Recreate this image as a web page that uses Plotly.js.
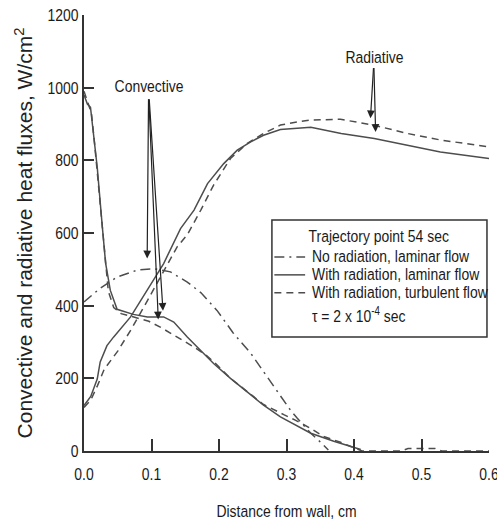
<!DOCTYPE html>
<html>
<head>
<meta charset="utf-8">
<script src="https://cdn.plot.ly/plotly-3.0.1.min.js"></script>
<style>
  html, body { margin: 0; padding: 0; background: #fff; }
  #chart { width: 497px; height: 521px; }
</style>
</head>
<body>
<div id="chart"></div>
<script>
// Distance from wall, cm, and heat fluxes in W/cm^2 for each case.

// No radiation, laminar flow (convective only)
const noRadX    = [0.0, 0.024, 0.049, 0.079, 0.103, 0.128, 0.153, 0.173, 0.197, 0.221, 0.247, 0.271, 0.291, 0.306, 0.316, 0.336, 0.350, 0.362];
const noRadConv = [410, 448, 479, 498, 502, 493, 465, 436, 387, 325, 269, 204, 149, 112, 90, 49, 25, 3];

// With radiation, laminar flow
const lamConvX  = [0.0, 0.005, 0.0096, 0.0145, 0.0196, 0.027, 0.032, 0.039, 0.049, 0.073, 0.094, 0.118, 0.133, 0.153, 0.173, 0.192, 0.217, 0.242, 0.266, 0.291, 0.318, 0.336, 0.370, 0.399, 0.410];
const lamConv   = [980, 955, 946, 864, 781, 620, 517, 442, 390, 376, 369, 369, 355, 314, 277, 241, 200, 163, 126, 94, 66, 49, 27, 11, 4];
const lamRadX   = [0.0, 0.01, 0.0196, 0.024, 0.034, 0.044, 0.069, 0.094, 0.118, 0.143, 0.163, 0.183, 0.207, 0.227, 0.247, 0.266, 0.291, 0.336, 0.381, 0.430, 0.479, 0.528, 0.600];
const lamRad    = [125, 150, 198, 245, 290, 314, 369, 443, 516, 612, 663, 736, 791, 828, 851, 869, 885, 891, 874, 860, 842, 823, 805];

// With radiation, turbulent flow
const turbConvX = [0.0, 0.006, 0.011, 0.016, 0.022, 0.029, 0.036, 0.044, 0.055, 0.075, 0.096, 0.113, 0.138, 0.163, 0.180, 0.195, 0.217, 0.242, 0.266, 0.296, 0.313, 0.336, 0.355, 0.380, 0.402, 0.412, 0.470, 0.480, 0.520, 0.530, 0.600];
const turbConv  = [990, 960, 930, 840, 720, 560, 440, 395, 378, 368, 357, 341, 314, 286, 265, 241, 200, 163, 128, 100, 85, 62, 40, 24, 8, 0, 0, 7, 7, 0, 0];
const turbRadX  = [0.0, 0.01, 0.02, 0.03, 0.05, 0.07, 0.094, 0.118, 0.138, 0.153, 0.173, 0.192, 0.217, 0.242, 0.266, 0.291, 0.316, 0.336, 0.380, 0.429, 0.479, 0.528, 0.600];
const turbRad   = [120, 140, 180, 225, 275, 335, 414, 497, 562, 595, 663, 732, 805, 847, 874, 897, 906, 911, 913, 897, 874, 856, 837];

const caseNames = ['No radiation, laminar flow', 'With radiation, laminar flow', 'With radiation, turbulent flow'];
const legendTitle = 'Trajectory point 54 sec';
const legendNote = '\u03c4 = 2 x 10<sup>-4</sup> sec';

const xTicks = [0.0, 0.1, 0.2, 0.3, 0.4, 0.5, 0.6];
const yTicks = [0, 200, 400, 600, 800, 1000, 1200];

const lineColor = '#4d4d4d';
const sans = '"Liberation Sans", Arial, sans-serif';
const dashNoRad = '10px,5px,2px,5px';
const dashTurb = '7px,5px';
const caseDash = [dashNoRad, 'solid', dashTurb];

function curve(x, y, name, dash) {
  return {
    x: x, y: y, name: name, type: 'scatter', mode: 'lines', showlegend: false,
    line: { color: lineColor, width: 1.5, dash: dash }, hoverinfo: 'skip'
  };
}

const traces = [
  curve(noRadX, noRadConv, caseNames[0], dashNoRad),
  curve(lamConvX, lamConv, caseNames[1], 'solid'),
  curve(lamRadX, lamRad, caseNames[1], 'solid'),
  curve(turbConvX, turbConv, caseNames[2], dashTurb),
  curve(turbRadX, turbRad, caseNames[2], dashTurb)
];

function arrow(tipX, tipY, tailX, tailY) {
  return {
    x: tipX, y: tipY, ax: tailX, ay: tailY,
    xref: 'x', yref: 'y', axref: 'x', ayref: 'y',
    text: '', showarrow: true,
    arrowhead: 2, arrowsize: 1.3, arrowwidth: 1.2, arrowcolor: '#222'
  };
}

const labelFont = { family: sans, size: 17, color: '#1a1a1a' };

// Key box, placed in paper units over the lower right of the plot
const key = { x0: 0.464, x1: 0.995, y0: 0.2615, y1: 0.530,
              sampleX0: 0.470, sampleX1: 0.546, textX: 0.558,
              titleX: 0.728, titleY: 0.492, rowY: [0.445, 0.404, 0.363], noteY: 0.312 };

const annotations = [
  { x: 0.096, y: 1002, xref: 'x', yref: 'y', text: 'Convective', showarrow: false, font: labelFont },
  { x: 0.430, y: 1084, xref: 'x', yref: 'y', text: 'Radiative', showarrow: false, font: labelFont },
  arrow(0.0936, 530, 0.0956, 972),
  arrow(0.110, 362, 0.0960, 972),
  arrow(0.117, 386, 0.0965, 972),
  arrow(0.4244, 916, 0.429, 1058),
  arrow(0.432, 878, 0.4295, 1058),
  { x: key.titleX, y: key.titleY, xref: 'paper', yref: 'paper', text: legendTitle,
    showarrow: false, font: labelFont, xanchor: 'center', yanchor: 'middle' }
];
caseNames.forEach(function (name, i) {
  annotations.push({ x: key.textX, y: key.rowY[i], xref: 'paper', yref: 'paper', text: name,
    showarrow: false, font: labelFont, xanchor: 'left', yanchor: 'middle', align: 'left' });
});
annotations.push({ x: key.textX, y: key.noteY, xref: 'paper', yref: 'paper', text: legendNote,
  showarrow: false, font: labelFont, xanchor: 'left', yanchor: 'middle', align: 'left' });

const shapes = [
  { type: 'rect', xref: 'paper', yref: 'paper', x0: key.x0, x1: key.x1, y0: key.y0, y1: key.y1,
    line: { color: '#333', width: 1.5 }, fillcolor: 'rgba(255,255,255,0)' }
];
caseDash.forEach(function (d, i) {
  shapes.push({ type: 'line', xref: 'paper', yref: 'paper',
    x0: key.sampleX0, x1: key.sampleX1, y0: key.rowY[i], y1: key.rowY[i],
    line: { color: lineColor, width: 1.5, dash: d } });
});

const layout = {
  width: 497, height: 521,
  margin: { l: 84, r: 8, t: 15, b: 70 },
  paper_bgcolor: '#fff', plot_bgcolor: '#fff',
  font: { family: sans, size: 17, color: '#222' },
  showlegend: false,
  xaxis: {
    range: [0, 0.6], tickvals: xTicks, tickformat: '.1f',
    ticks: 'inside', ticklen: 12, tickwidth: 2, tickcolor: '#333',
    showline: true, linewidth: 2, linecolor: '#333',
    showgrid: false, zeroline: false, ticklabelstandoff: 7,
    ticklabeloverflow: 'allow',
    tickfont: labelFont,
    title: { text: 'Distance from wall, cm', standoff: 22, font: labelFont }
  },
  yaxis: {
    range: [0, 1200], tickvals: yTicks,
    ticks: 'inside', ticklen: 10, tickwidth: 2, tickcolor: '#333',
    showline: true, linewidth: 2, linecolor: '#333',
    showgrid: false, zeroline: false,
    tickfont: labelFont,
    title: { text: 'Convective and radiative heat fluxes, W/cm<sup>2</sup>', standoff: 2,
             font: { family: sans, size: 21, color: '#222' } }
  },
  annotations: annotations,
  shapes: shapes
};

// Condensed lettering: narrow each label horizontally about its own anchor.
function condense(gd, factor) {
  const sel = '.xtick text, .ytick text, .g-xtitle text, text.annotation-text';
  gd.querySelectorAll(sel).forEach(function (el) {
    const b = el.getBBox();
    if (!b.width) return;
    const anchor = el.getAttribute('text-anchor') || 'start';
    const px = anchor === 'middle' ? b.x + b.width / 2 : (anchor === 'end' ? b.x + b.width : b.x);
    const t = el.getAttribute('transform') || '';
    el.setAttribute('transform', t + ' translate(' + px + ',0) scale(' + factor + ',1) translate(' + (-px) + ',0)');
  });
}

Plotly.newPlot('chart', traces, layout, { staticPlot: true, displayModeBar: false })
  .then(function (gd) { condense(gd, 0.82); });
</script>
</body>
</html>
